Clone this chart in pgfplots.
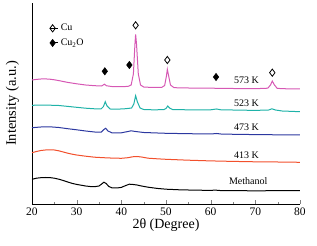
\documentclass[border=0pt]{standalone}
\usepackage{fontspec}
\setmainfont{Liberation Serif}
\usepackage{pgfplots}
\pgfplotsset{compat=1.18}
\definecolor{cMag}{RGB}{214,88,180}
\definecolor{cTeal}{RGB}{30,178,168}
\definecolor{cBlue}{RGB}{44,56,160}
\definecolor{cRed}{RGB}{242,80,44}
\begin{document}
\begin{tikzpicture}
\begin{axis}[
  at={(0,0)}, anchor=south west,
  scale only axis, width=268pt, height=201pt,
  xmin=20, xmax=80, ymin=0, ymax=201,
  axis lines=left, axis line style={-, line width=0.9pt},
  xtick={20,30,...,80}, minor x tick num=1,
  tick align=inside, major tick length=3.5pt, minor tick length=2pt,
  ytick=\empty,
  /pgf/number format/assume math mode=true,
  ticklabel style={font=\fontsize{11.5}{12}\selectfont},
  xlabel={2θ (Degree)},
  xlabel style={font=\fontsize{14}{15}\selectfont, yshift=3pt},
  ylabel={Intensity (a.u.)},
  ylabel style={font=\fontsize{14.5}{15}\selectfont, at={(axis description cs:-0.035,0.5)}, anchor=south},
  legend style={at={(axis description cs:0.06,0.91)}, anchor=north west, draw=none, fill=none,
    font=\fontsize{10}{11}\selectfont, row sep=2.5pt, inner sep=1pt},
  legend cell align=left,
  legend image code/.code={\draw[#1] plot coordinates {(0.1cm,0cm)}; \path (0cm,0cm) -- (0.3cm,0cm);},
  every axis plot/.append style={line width=1pt},
]
\addplot[black, forget plot] coordinates {(20,24.7)(21,25.8)(22,26.3)(23,26.5)(24,26.4)(25,25.8)(26,24.8)(27,23.5)(28,22)(29,20.6)(30,19.6)(31,18.8)(32,18)(33,17.5)(34,17.3)(35,18)(35.6,20)(36.1,21.8)(36.6,20.5)(37.2,17.5)(38,16)(39,16)(40,16.6)(41,18.5)(41.8,19.8)(42.5,19.6)(43.5,19)(44.5,18)(46,16.8)(48,15.6)(50,14.8)(53,14.2)(56,13.9)(60,13.6)(61,13.9)(62,13.5)(66,13.3)(70,13.2)(75,13.3)(80,13.3)};
\addplot[cRed, forget plot] coordinates {(20,51.3)(21,52.5)(22,53.5)(23,54)(24,54.2)(25,54)(26,53.2)(27,52)(28,50.8)(29,49.8)(30,49)(32,47.8)(34,46.8)(36,46.3)(38,45.9)(40,45.7)(41.5,46.3)(42.5,47.2)(43.5,47.5)(44.5,47)(46,45.8)(48,45.2)(50,44.7)(55,43.8)(60,43.1)(65,42.6)(70,42.2)(75,42)(80,41.7)};
\addplot[cBlue, forget plot] coordinates {(20,76.3)(22,77)(24,77.2)(26,76.5)(28,75.3)(30,74.2)(32,73)(34,72)(35.5,71.8)(36.1,74.5)(36.5,75.7)(37,73)(38,71)(40,71.2)(41.5,72.5)(42.2,73.2)(43,72.6)(45,71.5)(50,70.7)(55,70.3)(60,70)(61.3,70.5)(62.5,69.9)(70,69.4)(80,69)};
\addplot[cTeal, forget plot] coordinates {(20,98.7)(22,98.9)(24,98.8)(26,98.5)(28,97.6)(30,96.7)(32,95.8)(34,95.2)(35.5,95.2)(36,97.5)(36.4,102.3)(36.8,98)(37.5,95)(39,94.8)(41,95.3)(42.3,96)(42.8,100)(43.2,108.3)(43.6,102)(44.2,96)(45,94.5)(47,94.2)(49.5,94.3)(50,95.5)(50.4,98)(50.8,96)(51.5,94.4)(55,94.2)(60,94.2)(61.3,95)(62.3,94.2)(70,93.6)(73,94)(73.7,95.2)(74.5,94)(76,93)(80,92.3)};
\addplot[cMag, forget plot] coordinates {(20,124)(21,124.6)(22,125)(23,125.1)(24,124.8)(25,124.2)(26,123.4)(27,122.5)(28,121.6)(30,120.2)(32,119)(34,118.3)(35.6,118)(36.2,119.8)(36.7,118.2)(38,117.4)(40,117.3)(41.5,117.6)(42.2,119)(42.7,130)(43.05,160)(43.2,169.7)(43.4,160)(43.8,130)(44.3,119)(45,117)(47,116.5)(49,116.5)(49.7,118.5)(50.1,128)(50.3,134.7)(50.6,128)(51,119)(51.8,116.3)(55,116)(60,115.8)(65,115.5)(70,115.3)(72.8,115.8)(73.4,119)(73.8,123)(74.2,119.5)(74.9,115.6)(77,115.2)(80,115)};
\addplot[only marks, mark=diamond, mark size=3.6pt, mark options={line width=0.8pt, black, fill=white}] coordinates {(43.2,178.7)(50.3,144)(73.8,131.3)};
\addlegendentry{Cu}
\addplot[only marks, mark=diamond*, mark size=3.6pt, mark options={line width=0.6pt, black, fill=black}] coordinates {(36.3,132.7)(41.8,139)(61.2,127)};
\addlegendentry{Cu\textsubscript{2}O}
\node[font=\fontsize{10}{11}\selectfont] at (axis cs:68,124) {573 K};
\node[font=\fontsize{10}{11}\selectfont] at (axis cs:68,100.7) {523 K};
\node[font=\fontsize{10}{11}\selectfont] at (axis cs:68,76.3) {473 K};
\node[font=\fontsize{10}{11}\selectfont] at (axis cs:68,49) {413 K};
\node[font=\fontsize{10}{11}\selectfont] at (axis cs:68.4,23) {Methanol};
\end{axis}
\path (-32pt,-42pt) rectangle (285pt,204pt);
\end{tikzpicture}
\end{document}
